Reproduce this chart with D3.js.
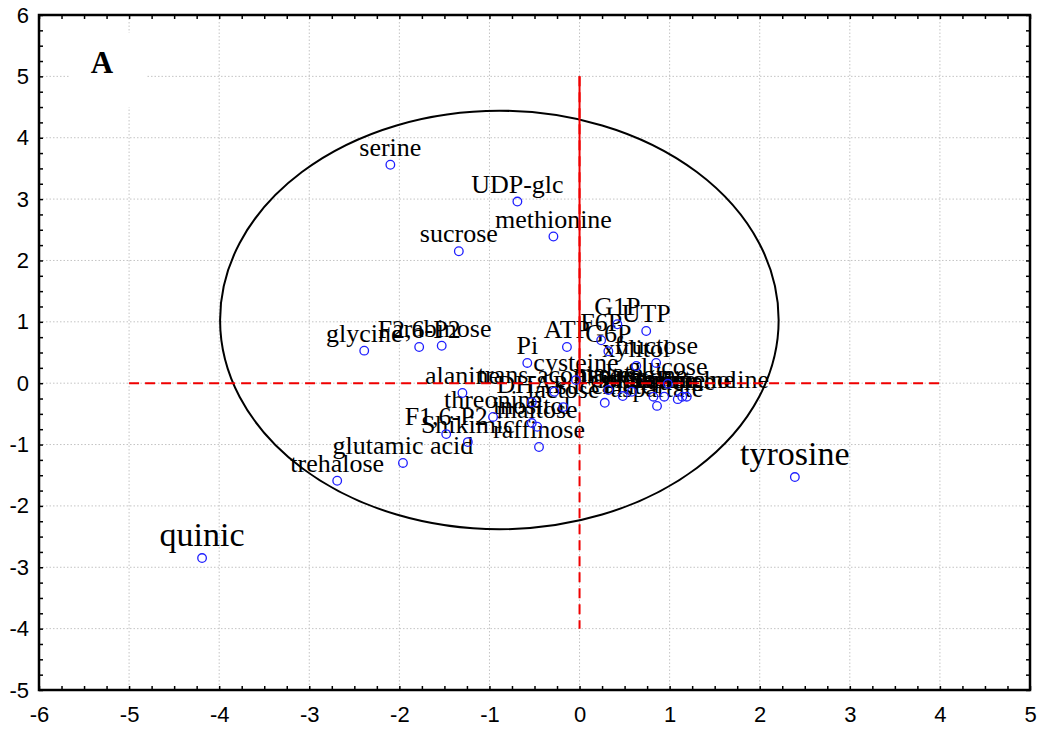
<!DOCTYPE html>
<html>
<head>
<meta charset="utf-8">
<script src="https://cdn.jsdelivr.net/npm/d3@7/dist/d3.min.js"></script>
<style>
  html, body { margin: 0; padding: 0; background: #fff; }
  svg { display: block; }
</style>
</head>
<body>
<svg id="chart" width="1041" height="729"></svg>
<script>
// Scores on the first two components, one entry per metabolite
const names = [
  "serine", "UDP-glc", "methionine", "sucrose",
  "glycine", "F2,6-P2", "arabinose", "Pi", "ATP",
  "alanine", "trans-aconitate", "DHAP", "lactose", "threonine",
  "inositol", "maltose", "raffinose", "Shikimic", "F1,6-P2",
  "glutamic acid", "trehalose", "quinic", "tyrosine",
  "G1P", "UTP", "F6P", "G6P", "fructose", "xylitol", "cysteine", "glucose",
  "malate", "citrate", "asparagine", "succinate", "glutamine", "aspartate",
  "valine", "leucine", "isoleucine", "phosphocholine"
];
const scoreX = [
  -2.10, -0.69, -0.29, -1.34,
  -2.39, -1.78, -1.53, -0.58, -0.14,
  -1.30, -0.28, -0.53, -0.18, -0.96,
  -0.53, -0.47, -0.45, -1.24, -1.48,
  -1.96, -2.69, -4.19, 2.39,
  0.42, 0.74, 0.24, 0.32, 0.85, 0.63, -0.04, 0.98,
  0.32, 0.48, 0.58, 0.28, 0.82, 0.86,
  0.94, 1.09, 1.14, 1.19
];
const scoreY = [
  3.56, 2.96, 2.39, 2.15,
  0.53, 0.59, 0.61, 0.33, 0.59,
  -0.16, -0.14, -0.31, -0.39, -0.55,
  -0.65, -0.71, -1.04, -0.96, -0.83,
  -1.30, -1.59, -2.85, -1.53,
  0.96, 0.85, 0.70, 0.52, 0.33, 0.28, 0.05, -0.01,
  -0.11, -0.21, -0.14, -0.32, -0.22, -0.37,
  -0.22, -0.26, -0.22, -0.22
];
const largeLabels = ["quinic", "tyrosine"];

const xTicks = [-6, -5, -4, -3, -2, -1, 0, 1, 2, 3, 4, 5];
const yTicks = [-5, -4, -3, -2, -1, 0, 1, 2, 3, 4, 5, 6];

// Confidence ellipse: centre and semi-axes in score units
const ellipseCentre = [-0.89, 1.03];
const ellipseRadii = [3.10, 3.41];

// Red reference lines through the origin
const hLineSpan = [-5, 4];
const vLineSpan = [-4, 5];

const panelLetter = "A";

const svg = d3.select("#chart");
const W = 1041, H = 729;
const m = { left: 39, top: 15, right: 11, bottom: 39 };
const iw = W - m.left - m.right, ih = H - m.top - m.bottom;

const x = d3.scaleLinear().domain([-6, 5]).range([0, iw]);
const y = d3.scaleLinear().domain([-5, 6]).range([ih, 0]);

const g = svg.append("g").attr("transform", `translate(${m.left},${m.top})`);

// dotted grid at the integer ticks
const grid = g.append("g").attr("stroke", "#c4c4c4").attr("stroke-width", 1)
  .attr("stroke-dasharray", "1.5,2");
grid.selectAll("line.vx").data(xTicks.slice(1, -1)).join("line")
  .attr("class", "vx")
  .attr("x1", d => x(d)).attr("x2", d => x(d)).attr("y1", 0).attr("y2", ih);
grid.selectAll("line.hy").data(yTicks.slice(1, -1)).join("line")
  .attr("class", "hy")
  .attr("x1", 0).attr("x2", iw).attr("y1", d => y(d)).attr("y2", d => y(d));

// white box behind the panel letter
g.append("rect").attr("x", 70 - m.left).attr("y", 33 - m.top)
  .attr("width", 77).attr("height", 74).attr("fill", "#fff");
g.append("text").attr("x", 102 - m.left).attr("y", 73 - m.top)
  .attr("text-anchor", "middle")
  .attr("font-family", "Liberation Serif, Times New Roman, serif")
  .attr("font-weight", "bold").attr("font-size", 31).text(panelLetter);

const points = names.map((n, i) => ({ name: n, x: scoreX[i], y: scoreY[i] }));

// metabolite labels centred above their points
g.append("g").selectAll("text").data(points).join("text")
  .attr("x", d => x(d.x))
  .attr("y", d => y(d.y) - (largeLabels.includes(d.name) ? 12 : 9))
  .attr("text-anchor", "middle")
  .attr("font-family", "Liberation Serif, Times New Roman, serif")
  .attr("font-size", d => largeLabels.includes(d.name) ? 34 : 26)
  .attr("fill", "#000")
  .text(d => d.name);

// ellipse
g.append("ellipse")
  .attr("cx", x(ellipseCentre[0])).attr("cy", y(ellipseCentre[1]))
  .attr("rx", x(ellipseCentre[0] + ellipseRadii[0]) - x(ellipseCentre[0]))
  .attr("ry", y(ellipseCentre[1] - ellipseRadii[1]) - y(ellipseCentre[1]))
  .attr("fill", "none").attr("stroke", "#000").attr("stroke-width", 2);

// reference lines
const red = "#f00000";
g.append("line")
  .attr("x1", x(hLineSpan[0])).attr("x2", x(hLineSpan[1]))
  .attr("y1", y(0)).attr("y2", y(0))
  .attr("stroke", red).attr("stroke-width", 2).attr("stroke-dasharray", "10,6");
g.append("line")
  .attr("x1", x(0)).attr("x2", x(0))
  .attr("y1", y(vLineSpan[1])).attr("y2", y(vLineSpan[0]))
  .attr("stroke", red).attr("stroke-width", 2).attr("stroke-dasharray", "10,6");
g.append("line")
  .attr("x1", x(0)).attr("x2", x(0))
  .attr("y1", y(vLineSpan[1])).attr("y2", y(0))
  .attr("stroke", red).attr("stroke-width", 2);

// score points
g.append("g").selectAll("circle").data(points).join("circle")
  .attr("cx", d => x(d.x)).attr("cy", d => y(d.y)).attr("r", 4.3)
  .attr("fill", "none").attr("stroke", "#1f1fff").attr("stroke-width", 1.3);

// axes: labelled bottom/left, minor inward ticks on all four sides
const quarterX = d3.range(-6, 5.001, 0.25);
const quarterY = d3.range(-5, 6.001, 0.25);
const fontSans = "Liberation Sans, Arial, sans-serif";
const plainNumber = d => String(d);

function styleAxis(sel) {
  sel.select(".domain").remove();
  sel.selectAll(".tick line").attr("stroke", "#000").attr("stroke-width", 1.5);
}
function styleLabels(sel) {
  sel.select(".domain").remove();
  sel.selectAll("text").attr("font-family", fontSans).attr("font-size", 22).attr("fill", "#000");
}

g.append("g").attr("transform", `translate(0,${ih})`)
  .call(d3.axisBottom(x).tickValues(quarterX).tickSize(-4).tickFormat(""))
  .call(styleAxis);
g.append("g").attr("transform", `translate(0,${ih})`)
  .call(d3.axisBottom(x).tickValues(xTicks).tickSize(0).tickPadding(16).tickFormat(plainNumber))
  .call(styleLabels);

g.append("g")
  .call(d3.axisLeft(y).tickValues(quarterY).tickSize(-4).tickFormat(""))
  .call(styleAxis);
g.append("g")
  .call(d3.axisLeft(y).tickValues(yTicks).tickSize(0).tickPadding(10).tickFormat(plainNumber))
  .call(styleLabels);

g.append("g")
  .call(d3.axisTop(x).tickValues(quarterX).tickSize(-4).tickFormat(""))
  .call(styleAxis);
g.append("g").attr("transform", `translate(${iw},0)`)
  .call(d3.axisRight(y).tickValues(quarterY).tickSize(-4).tickFormat(""))
  .call(styleAxis);

// frame
g.append("rect").attr("x", 0).attr("y", 0).attr("width", iw).attr("height", ih)
  .attr("fill", "none").attr("stroke", "#000").attr("stroke-width", 2.5);
</script>
</body>
</html>
